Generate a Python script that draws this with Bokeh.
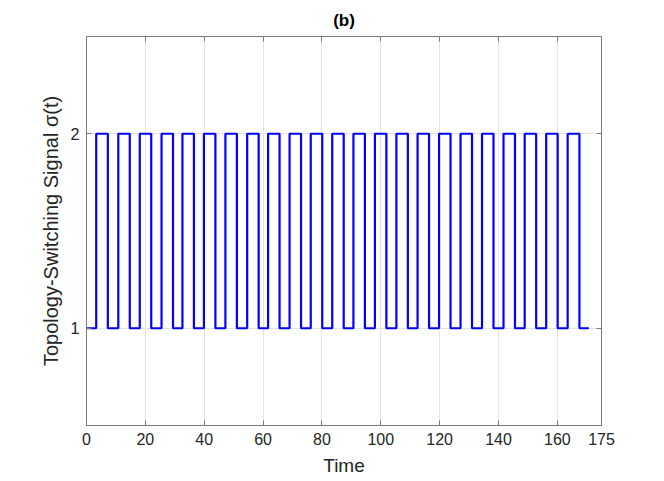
from bokeh.plotting import figure
from bokeh.models import FixedTicker, Range1d, LinearAxis
from bokeh.embed import file_html
from bokeh.resources import INLINE

# Switching instants (time) and the topology index held from each instant on
switch_times = [0, 3.3, 7.25, 10.8, 14.7, 18.1, 22.0, 25.5, 29.4, 32.6, 36.5,
                39.9, 43.8, 47.2, 51.1, 54.6, 58.5, 61.7, 65.6, 69.0, 72.9,
                76.2, 80.1, 83.5, 87.4, 90.7, 94.6, 98.0, 101.9, 105.3, 109.2,
                112.5, 116.4, 119.8, 123.7, 127.1, 131.0, 134.4, 138.3, 141.7,
                145.6, 148.9, 152.8, 156.2, 160.1, 163.5, 167.5]
sigma_values = [1, 2, 1, 2, 1, 2, 1, 2, 1, 2, 1,
                2, 1, 2, 1, 2, 1, 2, 1, 2, 1,
                2, 1, 2, 1, 2, 1, 2, 1, 2, 1,
                2, 1, 2, 1, 2, 1, 2, 1, 2,
                1, 2, 1, 2, 1, 2, 1]
end_time = 170.7

x_ticks = [0, 20, 40, 60, 80, 100, 120, 140, 160, 175]
y_ticks = [1, 2]

FONT = "Liberation Sans"
AX = "#7a7a7a"
TXT = "#262626"

p = figure(width=656, height=478, output_backend="svg", toolbar_location=None,
           x_range=Range1d(0, 175), y_range=Range1d(0.5, 2.5))
p.min_border_left = 86
p.min_border_right = 55
p.min_border_top = 36
p.min_border_bottom = 53

xs = switch_times + [end_time]
ys = sigma_values + [sigma_values[-1]]
p.step(xs, ys, mode="after", line_color="#0000ff", line_width=2.2)

p.title.text = "(b)"
p.title.align = "center"
p.title.text_font = FONT
p.title.text_font_style = "bold"
p.title.text_font_size = "17px"
p.title.text_color = "#000000"
p.title.offset = 0
p.title.standoff = 14

# box-style tick marks on the top and right edges (no labels)
top_axis = LinearAxis(ticker=FixedTicker(ticks=x_ticks),
                      major_label_overrides={t: "" for t in x_ticks})
right_axis = LinearAxis(ticker=FixedTicker(ticks=y_ticks),
                        major_label_overrides={t: "" for t in y_ticks})
for ax in (top_axis, right_axis):
    ax.major_label_text_font_size = "1px"
    ax.major_label_standoff = 0
p.add_layout(top_axis, "above")
p.add_layout(right_axis, "right")

p.xaxis.ticker = FixedTicker(ticks=x_ticks)
p.yaxis.ticker = FixedTicker(ticks=y_ticks)
p.xgrid.ticker = FixedTicker(ticks=x_ticks)
p.ygrid.ticker = FixedTicker(ticks=y_ticks)

for ax in p.xaxis + p.yaxis:
    ax.axis_line_color = AX
    ax.major_tick_line_color = AX
    ax.major_tick_in = 5
    ax.major_tick_out = 0
    ax.minor_tick_line_color = None
    ax.major_label_text_color = TXT
    ax.axis_label_text_font = FONT
    ax.axis_label_text_font_style = "normal"
    ax.axis_label_text_color = TXT

for ax in (p.below[0], p.left[0]):
    ax.major_label_text_font = FONT
    ax.major_label_text_font_size = "16px"
    ax.major_label_standoff = 7
    ax.axis_label_text_font_size = "19px"

p.below[0].axis_label = "Time"
p.below[0].axis_label_standoff = 7
p.left[0].axis_label = "Topology-Switching Signal σ(t)"
p.left[0].axis_label_text_font_size = "20px"
p.left[0].axis_label_standoff = 6

p.xgrid.grid_line_color = "#e4e4e4"
p.ygrid.grid_line_color = "#e4e4e4"
p.outline_line_color = AX
p.background_fill_color = "white"
p.border_fill_color = "white"

open("out.html", "w").write(file_html(p, INLINE))
